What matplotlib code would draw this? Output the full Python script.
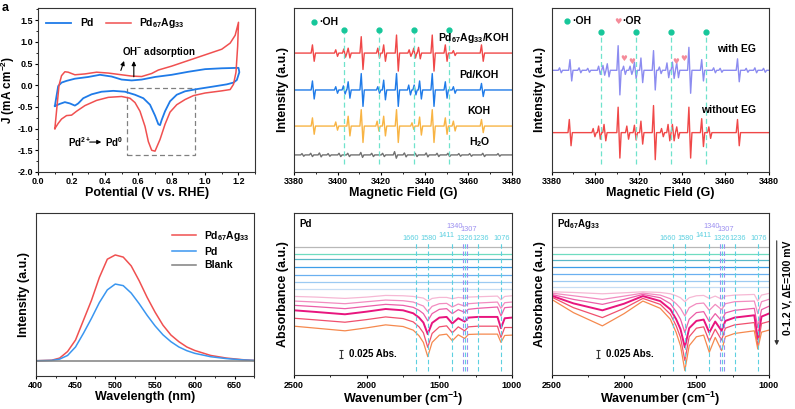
import numpy as np
import matplotlib
matplotlib.use('Agg')
import matplotlib.pyplot as plt
from matplotlib.patches import Rectangle
from matplotlib.ticker import MultipleLocator

plt.rcParams['font.family'] = ['Liberation Sans', 'DejaVu Sans']
plt.rcParams['font.weight'] = 'bold'
plt.rcParams['axes.labelweight'] = 'bold'
plt.rcParams['axes.unicode_minus'] = False
plt.rcParams['mathtext.fontset'] = 'custom'
plt.rcParams['mathtext.rm'] = 'Liberation Sans:bold'
plt.rcParams['mathtext.it'] = 'Liberation Sans:bold'
plt.rcParams['mathtext.bf'] = 'Liberation Sans:bold'
plt.rcParams['mathtext.default'] = 'rm'

PDAG = 'Pd$_{67}$Ag$_{33}$'

# ---- a: CV ----
cv_pd_e = [0.10, 0.11, 0.12, 0.14, 0.17, 0.22, 0.30, 0.37, 0.44, 0.50, 0.56, 0.62, 0.70, 0.80, 0.90, 1.00, 1.10,
           1.20, 1.205, 1.19, 1.17, 1.13, 1.05, 0.95, 0.88, 0.83, 0.79, 0.76, 0.74, 0.73, 0.72, 0.70, 0.67, 0.63,
           0.58, 0.52, 0.45, 0.38, 0.32, 0.27, 0.24, 0.22, 0.19, 0.16, 0.13, 0.10]
cv_pd_j = [-0.48, -0.25, -0.02, 0.06, 0.10, 0.15, 0.19, 0.24, 0.20, 0.13, 0.11, 0.13, 0.19, 0.24, 0.31, 0.37, 0.39,
           0.40, 0.30, 0.12, 0.06, 0.02, -0.03, -0.09, -0.14, -0.22, -0.37, -0.60, -0.80, -0.92, -0.90, -0.70, -0.45,
           -0.30, -0.22, -0.15, -0.13, -0.15, -0.21, -0.30, -0.42, -0.47, -0.42, -0.39, -0.43, -0.48]
cv_ag_e = [0.10, 0.11, 0.125, 0.14, 0.16, 0.18, 0.22, 0.28, 0.35, 0.42, 0.50, 0.56, 0.62, 0.68, 0.72, 0.80, 0.90,
           1.00, 1.10, 1.15, 1.18, 1.20, 1.195, 1.185, 1.17, 1.15, 1.10, 1.00, 0.93, 0.88, 0.83, 0.79, 0.76, 0.73,
           0.70, 0.68, 0.66, 0.64, 0.61, 0.58, 0.55, 0.50, 0.42, 0.35, 0.28, 0.23, 0.20, 0.17, 0.14, 0.12, 0.10]
cv_ag_j = [-1.00, -0.60, 0.00, 0.22, 0.31, 0.30, 0.24, 0.26, 0.30, 0.28, 0.24, 0.21, 0.20, 0.27, 0.35, 0.44, 0.57,
           0.70, 0.83, 0.97, 1.15, 1.45, 0.90, 0.30, 0.02, -0.10, -0.13, -0.18, -0.24, -0.33, -0.45, -0.62, -0.90,
           -1.25, -1.52, -1.50, -1.30, -0.95, -0.60, -0.40, -0.30, -0.26, -0.28, -0.35, -0.47, -0.60, -0.69, -0.70,
           -0.78, -0.88, -1.00]

# ---- b, c: EPR line lists (centre in G, half peak-to-peak amplitude) ----
oh_pos = [3402.7, 3419.0, 3435.0, 3451.2]
epr_ag_pos = [3388.8, 3399.5, 3403.2, 3405.2, 3411.2, 3418.8, 3421.5, 3427.4, 3433.2, 3435.3, 3437.5, 3443.8, 3449.8, 3453.5, 3466.4]
epr_ag_amp = [0.05, 0.02, 0.025, 0.03, 0.10, 0.03, 0.05, 0.11, 0.02, 0.03, 0.035, 0.11, 0.05, 0.015, 0.05]
epr_pd_pos = [3388.8, 3399.5, 3403.0, 3405.2, 3411.2, 3418.8, 3421.5, 3427.4, 3433.0, 3435.5, 3438.0, 3443.8, 3449.8, 3453.5, 3466.4]
epr_pd_amp = [0.055, 0.02, 0.025, 0.05, 0.10, 0.02, 0.06, 0.10, 0.03, 0.03, 0.055, 0.10, 0.05, 0.02, 0.04]
epr_koh_pos = [3388.8, 3399.5, 3405.2, 3411.2, 3418.5, 3421.5, 3427.4, 3434.5, 3438.0, 3443.8, 3449.8, 3453.5, 3466.4]
epr_koh_amp = [0.05, 0.025, 0.06, 0.10, 0.03, 0.06, 0.10, 0.02, 0.055, 0.10, 0.05, 0.03, 0.04]
epr_h2o_pos = [3384, 3388, 3392, 3396, 3401, 3405, 3411, 3416, 3421, 3426.5, 3431, 3436, 3441, 3446, 3451, 3456, 3461, 3467, 3474]
epr_h2o_amp = [0.008, 0.01, 0.012, 0.008, 0.01, 0.01, 0.015, 0.01, 0.01, 0.02, 0.012, 0.01, 0.012, 0.01, 0.01, 0.008, 0.008, 0.01, 0.008]
epr_b_offsets = [0.725, 0.50, 0.28, 0.104]
epr_b_names = [PDAG + '/KOH', 'Pd/KOH', 'KOH', 'H$_2$O']

epr_eg_pos = [3384, 3388.8, 3393, 3397, 3402, 3404, 3406, 3411, 3413.5, 3416.5, 3418.5, 3421.5, 3427.3, 3430, 3433.5,
              3436, 3438, 3443.6, 3449.5, 3455, 3458, 3466, 3470, 3474, 3478]
epr_eg_amp = [0.015, 0.065, 0.015, 0.012, 0.025, 0.03, 0.04, 0.15, 0.025, 0.025, 0.05, 0.075, 0.12, 0.02, 0.045,
              0.05, 0.045, 0.14, 0.065, 0.015, 0.012, 0.07, 0.012, 0.015, 0.012]
epr_noeg_pos = [3388.5, 3399.5, 3402, 3404.5, 3411, 3415, 3418.5, 3421.5, 3427.3, 3431, 3434, 3436, 3438, 3443.6, 3449.5, 3452.8, 3466]
epr_noeg_amp = [0.08, 0.025, 0.04, 0.05, 0.155, 0.04, 0.045, 0.07, 0.165, 0.025, 0.05, 0.05, 0.035, 0.155, 0.085, 0.035, 0.08]
or_pos = [3413.0, 3416.8, 3437.0, 3440.8]
or_y = [0.69, 0.675, 0.675, 0.69]

# ---- d: PL ----
pl_wl = [400, 420, 430, 440, 450, 460, 470, 480, 490, 500, 510, 520, 530, 540, 550, 560, 570, 580, 590, 600, 620, 640, 660, 675]
pl_pdag = [0, 0.5, 2.5, 8.7, 19.6, 38.3, 57, 78.8, 96, 100, 98, 89.7, 75.7, 60, 46, 33.6, 24.3, 18, 13, 9.7, 5, 2.5, 1, 0.3]
pl_pd = [0, 0.3, 1.5, 5, 13, 26, 40, 55, 67, 72.5, 71, 64, 54, 43, 33, 24.5, 18, 13, 9.5, 7, 3.8, 2, 0.8, 0.3]
pl_blank = [0] * len(pl_wl)

# ---- e, f: FTIR ----
wn = [2500, 2350, 2150, 2000, 1870, 1750, 1680, 1640, 1610, 1580, 1550, 1500, 1450, 1411, 1370, 1326, 1300, 1236, 1100, 1076, 1050, 1000]
flat_colors = ['#b8b8b8', '#6fdcc0', '#5ab8c8', '#3e9ee8', '#6ab0f0', '#9ccaf2', '#c8def4']
curve_colors = ['#f6b8d4', '#f28cc0', '#ec5ea8', '#e8157e', '#f0506e', '#f5894e']
pd_flat = [388, 367, 352, 329, 303, 283, 260]
pd_curves = [
    [239, 237, 233, 237, 242, 241, 239, 236, 234, 225, 233, 236, 236, 232, 236, 234, 237, 238, 240, 229, 239, 241],
    [225, 222, 217, 223, 228, 226, 222, 215, 210, 193, 209, 217, 218, 207, 216, 210, 217, 219, 222, 203, 220, 222],
    [212, 208, 202, 209, 215, 212, 206, 197, 187, 165, 187, 200, 202, 187, 199, 191, 200, 203, 207, 180, 205, 207],
    [197, 192, 185, 193, 201, 197, 188, 175, 160, 125, 159, 175, 177, 157, 173, 163, 175, 177, 177, 143, 173, 175],
    [173, 168, 161, 169, 177, 172, 162, 147, 129, 85, 127, 147, 150, 129, 147, 135, 147, 149, 149, 115, 145, 145],
    [149, 143, 135, 144, 153, 148, 137, 120, 100, 57, 100, 122, 125, 105, 123, 112, 124, 125, 125, 100, 121, 122],
]
ag_flat = [388, 367, 348, 328, 308, 285, 269]
ag_curves = [
    [253, 251, 247, 250, 253, 251, 247, 241, 235, 223, 235, 241, 242, 233, 240, 231, 240, 243, 245, 225, 243, 248],
    [249, 241, 230, 240, 249, 243, 232, 217, 203, 180, 205, 217, 219, 197, 215, 199, 217, 223, 225, 187, 223, 230],
    [245, 230, 215, 230, 245, 235, 217, 193, 170, 130, 170, 190, 193, 163, 187, 165, 189, 197, 203, 145, 199, 209],
    [241, 218, 197, 217, 240, 225, 200, 170, 140, 85, 143, 165, 169, 130, 163, 135, 165, 175, 182, 110, 178, 187],
    [237, 205, 175, 203, 233, 215, 185, 150, 115, 45, 117, 143, 147, 103, 140, 107, 143, 153, 160, 90, 157, 163],
    [230, 190, 150, 187, 225, 203, 170, 130, 90, 15, 90, 117, 122, 70, 115, 75, 117, 127, 135, 80, 131, 137],
]
bands = [1660, 1580, 1411, 1340, 1326, 1307, 1236, 1076]
band_label_x = [1698, 1573, 1450, 1398, 1325, 1300, 1214, 1071]
band_label_y = [415, 415, 423, 449, 415, 441, 415, 415]
band_purple = [False, False, False, True, False, True, False, False]

CYAN = '#5dd0e0'
PURPLE = '#9b8ff0'


def style(ax):
    for s in ax.spines.values():
        s.set_linewidth(0.8)
        s.set_color('#333333')
    ax.tick_params(which='major', direction='out', length=2.5, width=0.8, labelsize=6.5, pad=1.2)
    ax.tick_params(which='minor', direction='out', length=1.4, width=0.6)


def epr_line(pos, amp, base):
    xs, ys = [3380], [base]
    for c, a in zip(pos, amp):
        xs += [c - 1.0, c - 0.4, c + 0.4, c + 1.0]
        ys += [base, base + a, base - a, base]
    xs.append(3480)
    ys.append(base)
    return xs, ys


def epr_axes(ax):
    style(ax)
    ax.set_xlim(3380, 3480)
    ax.set_ylim(0, 1)
    ax.set_xticks(range(3380, 3481, 20))
    ax.xaxis.set_minor_locator(MultipleLocator(10))
    ax.set_yticks([])
    ax.set_xlabel('Magnetic Field (G)', fontsize=9, labelpad=0.3)
    ax.set_ylabel('Intensity (a.u.)', fontsize=9, labelpad=4)


fig = plt.figure(figsize=(7.95, 4.09), dpi=100)

# a
ax = fig.add_axes([0.048, 0.5795, 0.273, 0.401])
style(ax)
ax.plot(cv_pd_e, cv_pd_j, color='#1f7be8', lw=1.3, label='Pd')
ax.plot(cv_ag_e, cv_ag_j, color='#f05050', lw=1.1, label=PDAG)
ax.add_patch(Rectangle((0.53, -1.6), 0.41, 1.53, fill=False, ls=(0, (4, 2.5)), lw=0.9, ec='#808080'))
ax.set_xlim(0, 1.3)
ax.set_ylim(-2.0, 1.78)
ax.set_xticks([0.0, 0.2, 0.4, 0.6, 0.8, 1.0, 1.2])
ax.set_yticks([-2.0, -1.5, -1.0, -0.5, 0.0, 0.5, 1.0, 1.5])
ax.xaxis.set_minor_locator(MultipleLocator(0.1))
ax.yaxis.set_minor_locator(MultipleLocator(0.25))
ax.set_xlabel('Potential (V vs. RHE)', fontsize=9, labelpad=0.3)
ax.set_ylabel('J (mA cm$^{-2}$)', fontsize=8.5)
ax.yaxis.set_label_coords(-0.097, 0.5)
ax.legend(loc='upper left', bbox_to_anchor=(0.0, 1.0), ncol=2, frameon=False, fontsize=7.5,
          handlelength=2.4, columnspacing=1.2, borderaxespad=0.4)
ax.text(0.505, 0.76, 'OH$^{-}$ adsorption', fontsize=7, va='center')
ax.annotate('', xy=(0.52, 0.62), xytext=(0.49, 0.28), arrowprops=dict(arrowstyle='-|>', lw=0.8, color='k', mutation_scale=6))
ax.annotate('', xy=(0.573, 0.62), xytext=(0.573, 0.13), arrowprops=dict(arrowstyle='-|>', lw=0.8, color='k', mutation_scale=6))
ax.text(0.178, -1.31, 'Pd$^{2+}$', fontsize=7, va='center')
ax.annotate('', xy=(0.395, -1.31), xytext=(0.292, -1.31), arrowprops=dict(arrowstyle='-|>', lw=0.8, color='k', mutation_scale=6))
ax.text(0.40, -1.31, 'Pd$^{0}$', fontsize=7, va='center')
fig.text(0.002, 0.995, 'a', fontsize=9, fontweight='bold', va='top')

# b
ax = fig.add_axes([0.370, 0.5795, 0.274, 0.401])
epr_axes(ax)
b_sets = [(epr_ag_pos, epr_ag_amp, '#f04848'), (epr_pd_pos, epr_pd_amp, '#1f7be8'),
          (epr_koh_pos, epr_koh_amp, '#f8b444'), (epr_h2o_pos, epr_h2o_amp, '#707070')]
for (p, a, c), off in zip(b_sets, epr_b_offsets):
    xs, ys = epr_line(p, a, off)
    ax.plot(xs, ys, color=c, lw=1.0)
ax.vlines(oh_pos, 0.05, 0.85, colors='#6fe3cc', linestyles=(0, (4, 2.5)), lw=0.9)
ax.plot(oh_pos, [0.866] * 4, 'o', color='#16c79a', ms=3.5)
ax.plot([3389], [0.916], 'o', color='#16c79a', ms=3.5)
ax.text(3391.3, 0.916, '·OH', fontsize=7.5, va='center')
ax.text(3479, 0.815, epr_b_names[0], fontsize=7.5, ha='right', va='center')
ax.text(3465, 0.59, epr_b_names[1], fontsize=7.5, ha='center', va='center')
ax.text(3465, 0.37, epr_b_names[2], fontsize=7.5, ha='center', va='center')
ax.text(3465, 0.18, epr_b_names[3], fontsize=7.5, ha='center', va='center')

# c
ax = fig.add_axes([0.694, 0.5795, 0.273, 0.401])
epr_axes(ax)
xs, ys = epr_line(epr_eg_pos, epr_eg_amp, 0.62)
ax.plot(xs, ys, color='#8c8cf0', lw=1.0)
xs, ys = epr_line(epr_noeg_pos, epr_noeg_amp, 0.24)
ax.plot(xs, ys, color='#f04848', lw=1.0)
ax.vlines(oh_pos, 0.05, 0.84, colors='#6fe3cc', linestyles=(0, (4, 2.5)), lw=0.9)
ax.plot(oh_pos, [0.855] * 4, 'o', color='#16c79a', ms=3.5)
ax.plot([3387.2], [0.92], 'o', color='#16c79a', ms=3.5)
ax.text(3389.5, 0.92, '·OH', fontsize=7.5, va='center')
ax.text(3410.6, 0.92, '♥', fontsize=6, color='#f58c9a', ha='center', va='center', family='DejaVu Sans')
ax.text(3412.6, 0.92, '·OR', fontsize=7.5, va='center')
for x, y in zip(or_pos, or_y):
    ax.text(x, y, '♥', fontsize=5.5, color='#f58c9a', ha='center', va='center', family='DejaVu Sans')
ax.text(3474, 0.75, 'with EG', fontsize=7.5, ha='right', va='center')
ax.text(3474, 0.38, 'without EG', fontsize=7.5, ha='right', va='center')

# d
ax = fig.add_axes([0.045, 0.08, 0.275, 0.399])
style(ax)
ax.plot(pl_wl, pl_pdag, color='#f05050', lw=1.1, label=PDAG)
ax.plot(pl_wl, pl_pd, color='#3a96f0', lw=1.1, label='Pd')
ax.plot(pl_wl, pl_blank, color='#808080', lw=1.1, label='Blank')
ax.set_xlim(400, 675)
ax.set_ylim(-14.7, 139.6)
ax.set_xticks(range(400, 651, 50))
ax.xaxis.set_minor_locator(MultipleLocator(25))
ax.set_yticks([])
ax.set_xlabel('Wavelength (nm)', fontsize=9, labelpad=0.3)
ax.set_ylabel('Intensity (a.u.)', fontsize=9, labelpad=4)
ax.legend(loc='upper left', bbox_to_anchor=(0.58, 0.96), frameon=False, fontsize=7.5,
          handlelength=2.3, labelspacing=0.35)

# e, f
panels = [([0.370, 0.082, 0.274, 0.397], pd_flat, pd_curves, 'Pd'),
          ([0.694, 0.082, 0.273, 0.397], ag_flat, ag_curves, PDAG)]
for rect, flat, curves, name in panels:
    ax = fig.add_axes(rect)
    style(ax)
    for v, c in zip(flat, flat_colors):
        ax.plot([2500, 1000], [v, v], color=c, lw=0.9)
    for k, (cv, c) in enumerate(zip(curves, curve_colors)):
        ax.plot(wn, cv, color=c, lw=1.4 if k == 3 else 0.9)
    for b, lx, ly, p in zip(bands, band_label_x, band_label_y, band_purple):
        col = PURPLE if p else CYAN
        ax.vlines(b, 15, 400, colors=col, linestyles=(0, (4, 2.5)), lw=0.8)
        ax.text(lx, ly, str(b), fontsize=5.3, color=col, ha='center', va='center', fontweight='normal')
    ax.errorbar([2178], [64], yerr=[12], color='#333333', capsize=1.5, lw=0.8, capthick=0.8)
    ax.text(2125, 64, '0.025 Abs.', fontsize=7, va='center')
    ax.text(2462, 457, name, fontsize=7, va='center')
    ax.set_xlim(2500, 1000)
    ax.set_ylim(0, 491)
    ax.set_xticks([2500, 2000, 1500, 1000])
    ax.xaxis.set_minor_locator(MultipleLocator(250))
    ax.set_yticks([])
    ax.set_xlabel('Wavenumber (cm$^{-1}$)', fontsize=9, labelpad=0.3)
    ax.set_ylabel('Absorbance (a.u.)', fontsize=9, labelpad=4)

fig.add_artist(matplotlib.patches.FancyArrowPatch((0.977, 0.418), (0.977, 0.149), transform=fig.transFigure,
                                                  arrowstyle='-|>', mutation_scale=6, lw=0.8, color='#333333'))
fig.text(0.99, 0.296, '0-1.2 V, ΔE=100 mV', rotation=90, fontsize=7.5, ha='center', va='center')

fig.savefig('out.png', dpi=100)
